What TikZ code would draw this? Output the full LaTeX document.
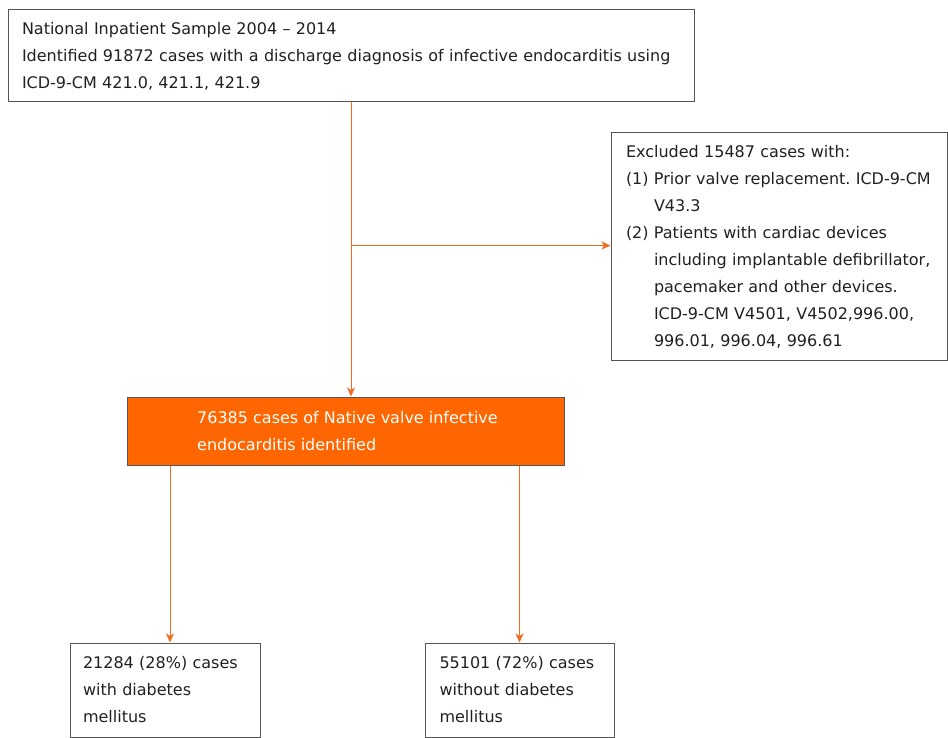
\documentclass[tikz,border=0pt]{standalone}
\usepackage{fontspec}
\setmainfont{DejaVu Sans}
\usetikzlibrary{arrows.meta}
\definecolor{txt}{HTML}{231F20}
\definecolor{bord}{HTML}{555555}
\definecolor{conn}{HTML}{F36B21}
\definecolor{orng}{HTML}{FF6600}
\frenchspacing
\tikzset{
  box/.style={draw=bord, line width=1pt, rectangle, inner sep=0pt, align=left, text=txt,
    font=\fontsize{16}{27}\selectfont},
  arr/.style={draw=conn, line width=0.9pt, -{Stealth[length=9pt,width=8pt,inset=2.5pt]}},
}
\begin{document}
\begin{tikzpicture}[x=1pt,y=-1pt]
\useasboundingbox (0,0) rectangle (948,738);
\node[box, minimum width=686, minimum height=92, text width=658] (top) at (351,56)
  {National Inpatient Sample 2004 -- 2014\\
   Identified 91872 cases with a discharge diagnosis of infective endocarditis using\\
   ICD-9-CM 421.0, 421.1, 421.9};
\node[box, minimum width=336, minimum height=227, text width=306] (excl) at (779,246.5)
  {Excluded 15487 cases with:\\
   (1) Prior valve replacement. ICD-9-CM\\
   \phantom{(1) }V43.3\\
   (2) Patients with cardiac devices\\
   \phantom{(2) }including implantable defibrillator,\\
   \phantom{(2) }pacemaker and other devices.\\
   \phantom{(2) }ICD-9-CM V4501, V4502,996.00,\\
   \phantom{(2) }996.01, 996.04, 996.61};
\node[box, fill=orng, text=white, minimum width=437, minimum height=68] (nat) at (345.5,431)
  {\hspace*{4pt}76385 cases of Native valve infective\\
   \hspace*{4pt}endocarditis identified};
\node[box, minimum width=190, minimum height=94, text width=164] (dm) at (165,690)
  {21284 (28\%) cases\\ with diabetes\\ mellitus};
\node[box, minimum width=189, minimum height=94, text width=160] (nodm) at (519.5,690)
  {55101 (72\%) cases\\ without diabetes\\ mellitus};
\draw[arr] (top.south) -- (top.south |- nat.north);
\coordinate (br) at ([yshift=-143]top.south);
\draw[arr] (br) -- (br -| excl.west);
\draw[arr] ([xshift=5]dm.north |- nat.south) -- ([xshift=5]dm.north);
\draw[arr] (nodm.north |- nat.south) -- (nodm.north);
\end{tikzpicture}
\end{document}
